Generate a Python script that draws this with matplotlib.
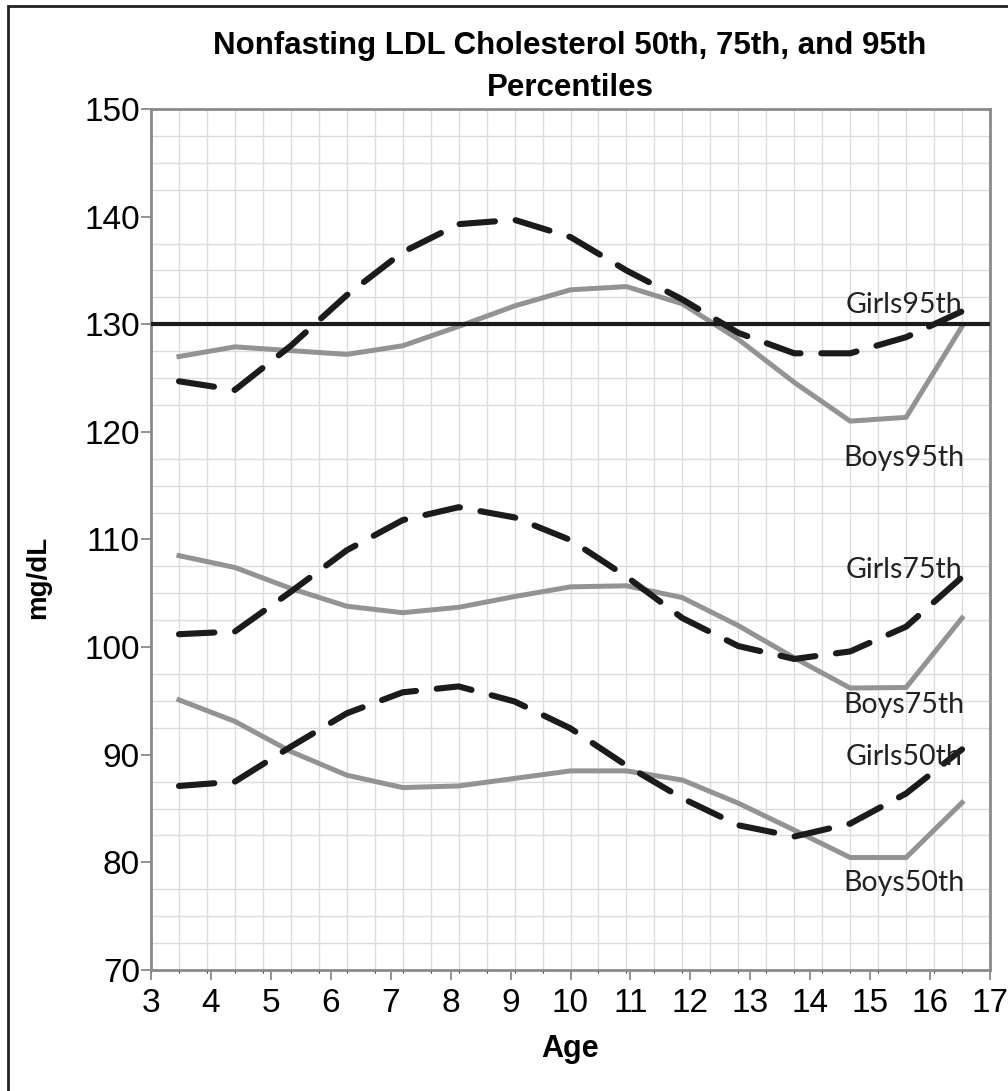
import matplotlib
matplotlib.use("Agg")
import matplotlib.pyplot as plt
import numpy as np
from matplotlib.patches import Rectangle

# ---- data (15 age categories, plotted at category centres) ----
n_cat = 15
girls95 = [124.7, 123.9, 128.0, 132.7, 136.7, 139.3, 139.7, 138.1, 135.0, 132.3, 129.2, 127.3, 127.3, 128.8, 131.2]
boys95  = [127.0, 127.9, 127.55, 127.2, 128.0, 129.8, 131.7, 133.2, 133.5, 131.9, 128.6, 124.6, 121.0, 121.35, 129.8]
girls75 = [101.2, 101.45, 105.15, 109.0, 111.8, 113.0, 112.05, 109.95, 106.55, 102.7, 100.1, 98.9, 99.6, 101.9, 106.5]
boys75  = [108.5, 107.4, 105.45, 103.8, 103.2, 103.7, 104.7, 105.6, 105.7, 104.6, 102.0, 99.0, 96.2, 96.25, 102.7]
girls50 = [87.1, 87.5, 90.75, 93.85, 95.8, 96.35, 94.95, 92.45, 89.0, 85.95, 83.45, 82.4, 83.6, 86.4, 90.5]
boys50  = [95.1, 93.1, 90.3, 88.1, 86.95, 87.1, 87.8, 88.5, 88.5, 87.65, 85.5, 83.0, 80.45, 80.45, 85.55]
reference_level = 130
age_ticks = list(range(3, 18))
y_ticks = [70, 80, 90, 100, 110, 120, 130, 140, 150]

labels = ["Girls95th", "Boys95th", "Girls75th", "Boys75th", "Girls50th", "Boys50th"]
label_y = [131.8, 117.6, 107.2, 94.6, 89.8, 78.1]

title = "Nonfasting LDL Cholesterol 50th, 75th, and 95th\nPercentiles"

# ---- figure ----
fig = plt.figure(figsize=(10.08, 10.91), dpi=100)
ax = fig.add_axes([151/1008, 1-970/1091, (990-151)/1008, (970-109)/1091])

grey = "#939393"
dark = "#1c1a1b"
spine_c = "#8a8a8a"

x = np.arange(n_cat) + 0.5

ax.set_xlim(0, n_cat)
ax.set_ylim(70, 150)

# gridlines
ax.set_xticks(np.arange(0, n_cat + 0.01, 0.5), minor=True)
ax.set_yticks(np.arange(70, 150.01, 2.5), minor=True)
ax.grid(which="minor", color="#dcdcdc", linewidth=1.0, zorder=0)
ax.set_xticks([])
ax.tick_params(axis="x", which="both", bottom=False, labelbottom=False)
ax.set_yticks(y_ticks)
ax.tick_params(axis="y", which="major", length=7, width=1.3, color=spine_c,
               labelsize=24, pad=1, direction="out")
ax.tick_params(axis="y", which="minor", length=0)
for lbl in ax.get_yticklabels():
    lbl.set_family("Liberation Sans")
ax.set_axisbelow(True)

for s in ax.spines.values():
    s.set_color(spine_c)
    s.set_linewidth(2.0)

lw_solid = 3.6
lw_dash = 4.4

def dashed(yv):
    ln, = ax.plot(x, yv, color=dark, linewidth=lw_dash, solid_capstyle="round",
                  dash_capstyle="round", zorder=3)
    ln.set_dashes((5.8, 3.4))
    return ln

ax.axhline(reference_level, color=dark, linewidth=3.0, zorder=4)

ax.plot(x, boys95, color=grey, linewidth=lw_solid, zorder=3)
ax.plot(x, boys75, color=grey, linewidth=lw_solid, zorder=3)
ax.plot(x, boys50, color=grey, linewidth=lw_solid, zorder=3)
dashed(girls95)
dashed(girls75)
dashed(girls50)

for t, yy in zip(labels, label_y):
    ax.text(13.47, yy, t, ha="center", va="center", fontsize=20.5,
            family="Lato", color="#222222", zorder=5)

fig.text(38/1008, 1-577/1091, "mg/dL", rotation=90, ha="center", va="center",
         fontsize=20, fontweight="bold", family="Liberation Sans")

# secondary (age) axis shown at the bottom
ax2 = ax.twiny()
ax2.set_xlim(3, 17)
ax2.set_xticks(age_ticks)
ax2.xaxis.set_ticks_position("bottom")
ax2.xaxis.set_label_position("bottom")
ax2.tick_params(axis="x", length=7, width=1.3, color=spine_c, labelsize=24, pad=6)
for lbl in ax2.get_xticklabels():
    lbl.set_family("Liberation Sans")
ax2.set_xlabel("Age", fontsize=22, fontweight="bold", family="Liberation Sans", labelpad=11)
for s in ax2.spines.values():
    s.set_visible(False)

fig.text(570/1008, 1-67/1091, title, ha="center", va="center", fontsize=22.5,
         fontweight="bold", family="Liberation Sans", linespacing=1.5)

# outer frame
fig.patches.append(Rectangle((8/1008, -0.05), 1.2, 1-6/1091 + 0.05,
                             transform=fig.transFigure, fill=False,
                             edgecolor="#222222", linewidth=2.0))

fig.savefig("out.png", dpi=100, facecolor="white")
